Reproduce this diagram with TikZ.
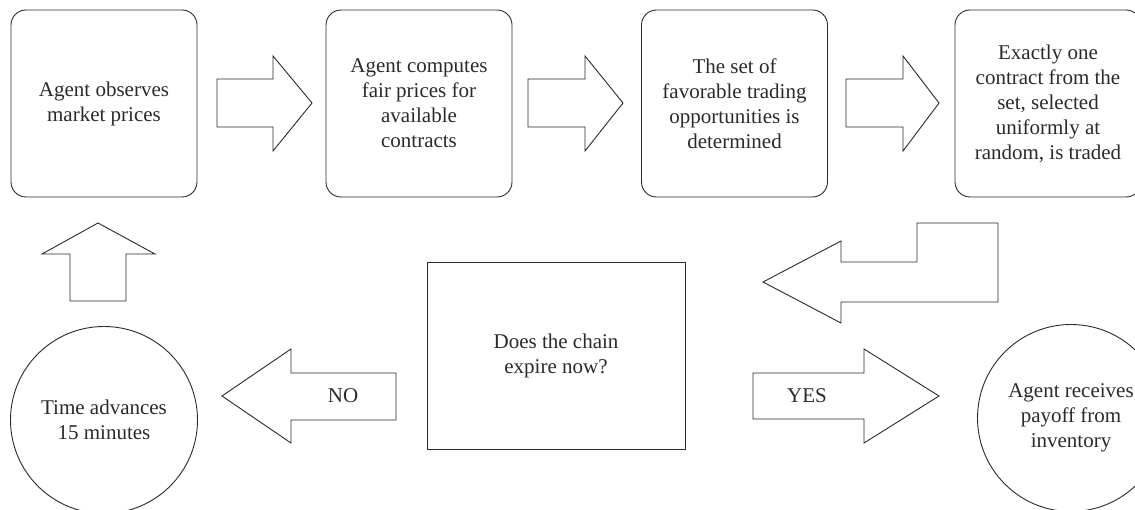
\documentclass[tikz,border=0pt]{standalone}
\usepackage{fontspec}
\setmainfont{Liberation Serif}
\definecolor{ink}{HTML}{2A2A2A}
\begin{document}
\begin{tikzpicture}[x=1pt,y=-1pt,line width=0.9pt,
  every node/.style={font=\fontsize{21}{25}\selectfont,align=center,text=ink},
  stepbox/.style={draw=ink,rounded corners=15pt,minimum width=186pt,minimum height=187pt,inner sep=0pt},
  roundbox/.style={draw=ink,circle,minimum size=187pt,inner sep=0pt},
  decbox/.style={draw=ink,rectangle,minimum width=258pt,minimum height=187pt,inner sep=0pt},
  blockarrow/.style={draw=ink,fill=white,line join=miter},
  lbl/.style={inner sep=0pt}]
\useasboundingbox (0,0) rectangle (1135,510);
\clip (0,0) rectangle (1135,510);

% top row
\node[stepbox] (obs) at (104,103.5) {Agent observes\\market prices};
\node[stepbox] (fair) at (419,103.5) {Agent computes\\fair prices for\\available\\contracts};
\node[stepbox] (set) at (734.5,103.5) {The set of\\favorable trading\\opportunities is\\determined};
\node[stepbox] (trade) at (1048,103.5) {Exactly one\\contract from the\\set, selected\\uniformly at\\random, is traded};

% bottom row
\node[roundbox] (time) at (104,420) {Time advances\\15 minutes};
\node[decbox] (dec) at (556,355.5) {Does the chain\\expire now?};
\node[roundbox] (pay) at (1071,418) {Agent receives\\payoff from\\inventory};

% block arrows top row
\draw[blockarrow] (217,79) -- (273,79) -- (273,56) -- (312,103) -- (273,151) -- (273,127) -- (217,127) -- cycle;
\draw[blockarrow] (528,79) -- (585,79) -- (585,56) -- (623,103) -- (585,151) -- (585,127) -- (528,127) -- cycle;
\draw[blockarrow] (846,79) -- (903,79) -- (903,56) -- (939,103) -- (903,151) -- (903,127) -- (846,127) -- cycle;

% L-shaped return arrow
\draw[blockarrow] (763,282) -- (841,241) -- (841,262) -- (917,262) -- (917,223) -- (998,223) -- (998,302) -- (841,302) -- (841,323) -- cycle;

% up arrow
\draw[blockarrow] (98,223) -- (155,254) -- (126,254) -- (126,301) -- (70,301) -- (70,254) -- (42,254) -- cycle;

% NO arrow
\draw[blockarrow] (222,396) -- (291,349) -- (291,373) -- (396,373) -- (396,420) -- (291,420) -- (291,443) -- cycle;
\node[lbl] (no) at (343,396) {NO};

% YES arrow
\draw[blockarrow] (753,373) -- (864,373) -- (864,349) -- (939,396) -- (864,443) -- (864,419) -- (753,419) -- cycle;
\node[lbl] (yes) at (807,396) {YES};
\end{tikzpicture}
\end{document}
